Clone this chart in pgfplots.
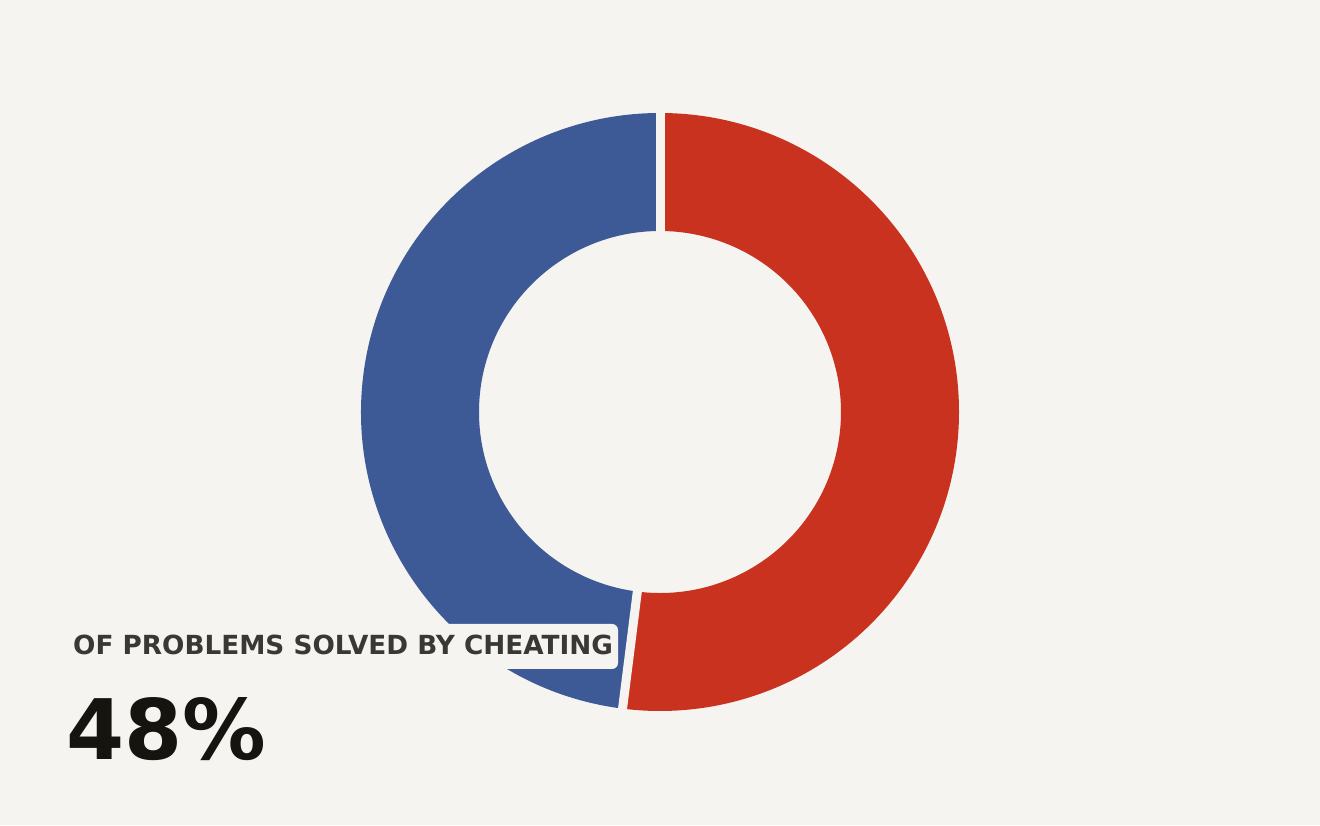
\documentclass[border=0pt]{standalone}
\usepackage{pgfplots}
\usepackage{pgfplotstable}
\pgfplotsset{compat=1.18}
\usepackage{fontspec}
\setmainfont{DejaVu Sans}

\definecolor{bg}{HTML}{F5F4F0}
\definecolor{redc}{HTML}{C8321F}
\definecolor{bluec}{HTML}{3D5A96}
\definecolor{labelc}{HTML}{3A3834}
\definecolor{bigc}{HTML}{16140F}

\pgfplotstableread{
part value
Cheating 48
Other 52
}\donutdata

\begin{document}
\begin{tikzpicture}
\pgfplotstablegetelem{0}{value}\of\donutdata \let\vcheat\pgfplotsretval
\pgfplotstablegetelem{1}{value}\of\donutdata \let\vother\pgfplotsretval
% red runs clockwise from the top, blue takes the rest
\pgfmathsetmacro{\splitang}{90-\vother/(\vcheat+\vother)*360}
\def\Ro{299pt}
\def\Ri{181pt}
\begin{axis}[
    scale only axis,
    width=1320pt, height=825pt,
    xmin=0, xmax=1320, ymin=0, ymax=825,
    axis lines=none,
    clip=false,
]
\fill[bg] (axis cs:0,0) rectangle (axis cs:1320,825);
\coordinate (c) at (axis cs:660,413);

\fill[redc] ([shift={(90:\Ro)}]c) arc[start angle=90, end angle=\splitang, radius=\Ro]
    -- ([shift={(\splitang:\Ri)}]c) arc[start angle=\splitang, end angle=90, radius=\Ri] -- cycle;
\fill[bluec] ([shift={(\splitang:\Ro)}]c) arc[start angle=\splitang, end angle=-270, radius=\Ro]
    -- ([shift={(-270:\Ri)}]c) arc[start angle=-270, end angle=\splitang, radius=\Ri] -- cycle;

% gaps between the slices
\draw[bg, line width=9pt] ([shift={(90:170pt)}]c) -- ([shift={(90:310pt)}]c);
\draw[bg, line width=9pt] ([shift={(\splitang:170pt)}]c) -- ([shift={(\splitang:310pt)}]c);

% label
\fill[bg, rounded corners=6pt] (axis cs:62,156) rectangle (axis cs:618,201);
\node[anchor=base west, inner sep=0pt, text=labelc, font=\bfseries\fontsize{26.3}{30}\selectfont]
    at (axis cs:73,170) {OF PROBLEMS SOLVED BY CHEATING};
\node[anchor=base west, inner sep=0pt, text=bigc, font=\bfseries\fontsize{83.5}{90}\selectfont]
    at (axis cs:66,66) {\vcheat\%};
\end{axis}
\end{tikzpicture}
\end{document}
